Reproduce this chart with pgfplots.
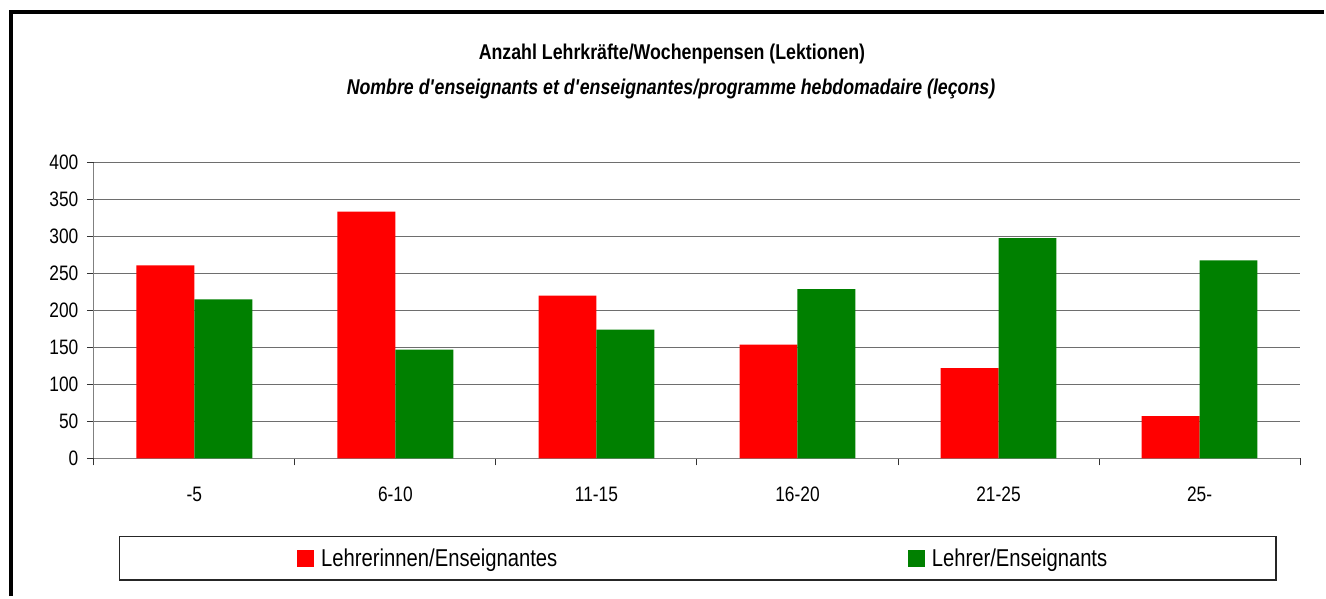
\documentclass[border=0pt]{standalone}
\usepackage{pgfplots}
\pgfplotsset{compat=1.18}
\usepackage{fontspec}
\setmainfont{Liberation Sans}[FakeStretch=0.83]

\definecolor{lred}{RGB}{255,0,0}
\definecolor{lgreen}{RGB}{0,128,0}
\definecolor{gridgray}{RGB}{110,110,110}

\begin{document}
\begin{tikzpicture}[x=1bp,y=1bp]
\path (0,0) rectangle (1326,597);
\draw[line width=4bp] (11,0) -- (11,585) -- (1326,585);
\node[font=\bfseries\fontsize{21.5}{24}\selectfont] at (673,543) {Anzahl Lehrkräfte/Wochenpensen (Lektionen)};
\node[font=\bfseries\itshape\fontsize{21.5}{24}\selectfont] at (672,508) {Nombre d\textquotesingle enseignants et d\textquotesingle enseignantes/programme hebdomadaire (leçons)};
\draw[line width=1.3bp, black!85] (120,16) rectangle (1278,60);

\begin{axis}[
  at={(94bp,138bp)}, anchor=south west,
  scale only axis, width=1208bp, height=296bp,
  xmin=-0.5, xmax=5.5, ymin=0, ymax=400,
  ybar=0pt, bar width=58bp,
  axis lines=left, axis line style={-, gray, line width=1bp},
  ytick={0,50,...,400}, ymajorgrids, grid style={gridgray, line width=1bp},
  xtick={-0.5,0.5,...,5.5}, xticklabels={},
  extra x ticks={0,1,2,3,4,5},
  extra x tick labels={-5,6-10,11-15,16-20,21-25,25-},
  extra x tick style={major tick length=0pt},
  tick align=outside, major tick length=7bp,
  tick style={black!80, line width=1bp},
  /pgf/number format/assume math mode=true,
  tick label style={font=\fontsize{21}{24}\selectfont},
  xticklabel style={yshift=-25bp},
  yticklabel style={xshift=-5bp},
  legend columns=2,
  legend style={at={(0.166,-0.3378)}, anchor=west, draw=none, fill=none,
    font=\fontsize{24.5}{27}\selectfont,
    /tikz/every odd column/.append style={column sep=5bp},
    /tikz/every even column/.append style={column sep=349bp}},
  legend image code/.code={\fill[#1] (0bp,-8.5bp) rectangle (17bp,8.5bp);},
]
\addplot[fill=lred, draw=none] coordinates {(0,261) (1,334) (2,220) (3,154) (4,122) (5,57)};
\addlegendentry{Lehrerinnen/Enseignantes}
\addplot[fill=lgreen, draw=none] coordinates {(0,215) (1,147) (2,174) (3,229) (4,298) (5,268)};
\addlegendentry{Lehrer/Enseignants}
\end{axis}
\end{tikzpicture}
\end{document}
